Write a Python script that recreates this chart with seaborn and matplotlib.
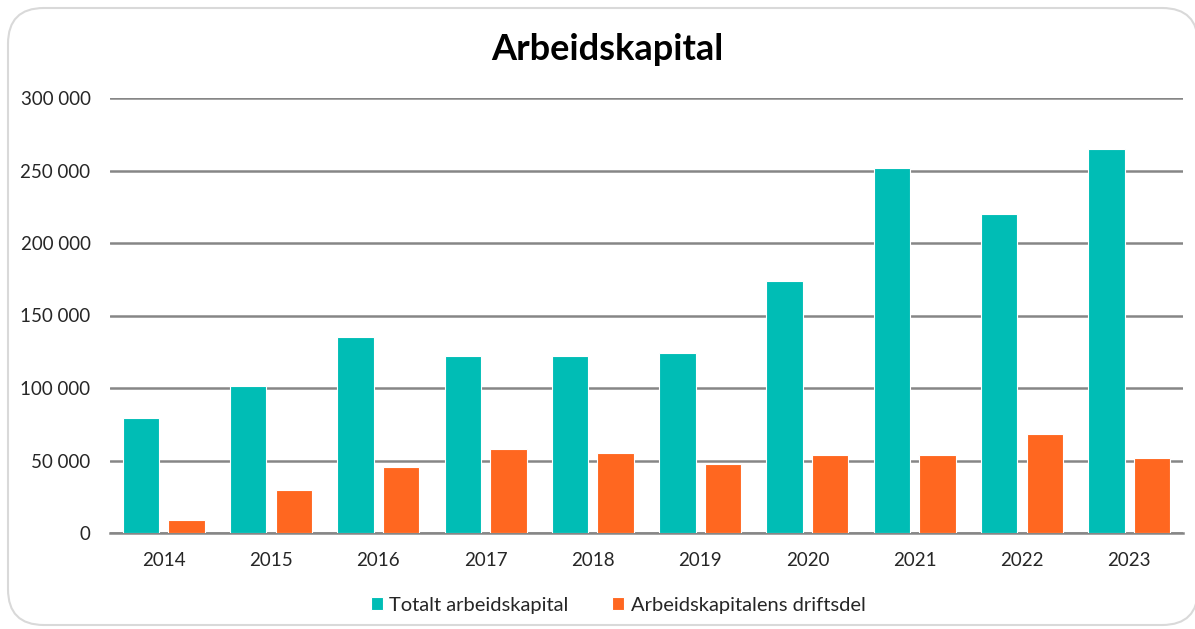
import matplotlib
matplotlib.use("Agg")
import matplotlib.pyplot as plt
import seaborn as sns
import pandas as pd
from matplotlib.patches import FancyBboxPatch
from matplotlib.ticker import FuncFormatter

years = ["2014", "2015", "2016", "2017", "2018", "2019", "2020", "2021", "2022", "2023"]
totalt = [79000, 101500, 135000, 122000, 122000, 124000, 173500, 252000, 220000, 264500]
drift = [9000, 29500, 45500, 58000, 55500, 47500, 53500, 53500, 68000, 51500]
series_names = ["Totalt arbeidskapital", "Arbeidskapitalens driftsdel"]
colors = ["#00BDB5", "#FF6720"]

df = pd.DataFrame({
    "year": years * 2,
    "value": totalt + drift,
    "series": [series_names[0]] * len(years) + [series_names[1]] * len(years),
})

sns.set_style("white")
plt.rcParams["font.family"] = ["Lato", "DejaVu Sans"]

fig = plt.figure(figsize=(11.95, 6.29), dpi=100)
frame = FancyBboxPatch((8 / 1195, 4 / 629), 1190 / 1195, 617 / 629,
                       boxstyle="round,pad=0,rounding_size=0.03",
                       transform=fig.transFigure, facecolor="white",
                       edgecolor="#D9D9D9", linewidth=1.5, zorder=-5,
                       mutation_aspect=1195 / 629)
fig.patches.append(frame)

ax = fig.add_axes([110 / 1195, 96 / 629, (1183 - 110) / 1195, (533 - 98) / 629])
ax.set_zorder(2)
ax.set_facecolor("none")
sns.barplot(data=df, x="year", y="value", hue="series", palette=colors,
            width=0.85, gap=0.2, ax=ax, edgecolor="white", linewidth=0.8,
            saturation=1, zorder=3)
ax.set_ylim(0, 300000)
ax.set_yticks(range(0, 300001, 50000))
ax.yaxis.set_major_formatter(FuncFormatter(lambda v, p: f"{int(v):,}".replace(",", " ")))
ax.grid(axis="y", color="#868686", linewidth=1.8, zorder=0)
ax.set_axisbelow(True)
for s in ["top", "right", "left"]:
    ax.spines[s].set_visible(False)
ax.spines["bottom"].set_color("#868686")
ax.spines["bottom"].set_linewidth(1.8)
ax.tick_params(axis="both", length=0, labelsize=13.5, colors="#262626")
ax.tick_params(axis="y", pad=14)
ax.tick_params(axis="x", pad=14)
ax.set_xlabel("")
ax.set_ylabel("")

handles, labels = ax.get_legend_handles_labels()
ax.legend(handles, labels, loc="center", bbox_to_anchor=(618 / 1195, 24 / 629),
          bbox_transform=fig.transFigure, ncol=2, frameon=False, fontsize=14.5,
          handlelength=0.6, handleheight=0.6, handletextpad=0.3, columnspacing=2.2,
          labelcolor="#262626")

fig.text(607 / 1195, 1 - 50 / 629, "Arbeidskapital", ha="center", va="center",
         fontsize=26, fontweight="bold", color="black")

fig.savefig("out.png", dpi=100)
